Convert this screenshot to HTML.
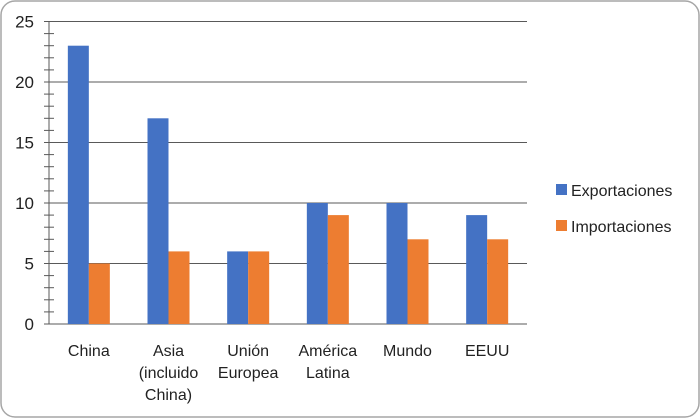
<!DOCTYPE html>
<html><head><meta charset="utf-8"><style>
body{margin:0;background:#fff}
svg{display:block;font-family:"Liberation Sans",sans-serif}
</style></head><body>
<svg id="chart" width="700" height="418">
<rect x="1" y="1" width="698" height="416" rx="14" fill="#fff" stroke="#a6a6a6" stroke-width="1.5"/>
<g id="grid"></g><g id="bars"></g><g id="axis"></g>
<g>
<rect x="556" y="184" width="11" height="11" fill="#4472c4"/>
<text x="571" y="196" font-size="16" fill="#222">Exportaciones</text>
<rect x="556" y="220" width="11" height="11" fill="#ed7d31"/>
<text x="571" y="232" font-size="16" fill="#222">Importaciones</text>
</g>
</svg>
<script>
const categories=[["China"],["Asia","(incluido","China)"],["Unión","Europea"],["América","Latina"],["Mundo"],["EEUU"]];
const exportaciones=[23,17,6,10,10,9];
const importaciones=[5,6,6,9,7,7];
const yTicks=[0,5,10,15,20,25];
const NS="http://www.w3.org/2000/svg";
const x0=49,x1=527,yBase=324,yTop=21.5,yMax=25;
const y=v=>yBase-(v/yMax)*(yBase-yTop);
const band=(x1-x0)/categories.length;
const bw=21;
function mk(t,a,p){const e=document.createElementNS(NS,t);for(const k in a)e.setAttribute(k,a[k]);document.getElementById(p).appendChild(e);return e;}
yTicks.forEach(v=>{
 const l=mk('line',{x1:x0,x2:x1,y1:y(v),y2:y(v),stroke:'#595959','stroke-width':1},'grid');
 
 
 const t=mk('text',{x:34,y:y(v)+6,'font-size':17,'text-anchor':'end',fill:'#222'},'axis');
 t.textContent=v;
 
 
});
for(let v=0;v<=yMax;v++){
 const m=mk('line',{x1:44,x2:54,y1:y(v),y2:y(v),stroke:'#595959','stroke-width':1},'axis');
 
 
}
const ax=mk('line',{x1:x0,x2:x0,y1:yTop,y2:yBase,stroke:'#595959','stroke-width':1},'axis');


categories.forEach((c,i)=>{
 const cx=x0+band*(i+0.5);
 const b1=mk('rect',{x:cx-bw,y:y(exportaciones[i]),width:bw,height:yBase-y(exportaciones[i]),fill:'#4472c4'},'bars');
 
 
 const b2=mk('rect',{x:cx,y:y(importaciones[i]),width:bw,height:yBase-y(importaciones[i]),fill:'#ed7d31'},'bars');
 
 
 c.forEach((line,j)=>{
  const t=mk('text',{x:cx,y:356+j*22,'font-size':16,'text-anchor':'middle',fill:'#222'},'axis');
  t.textContent=line;
  
  
 });
});
</script>
</body></html>
